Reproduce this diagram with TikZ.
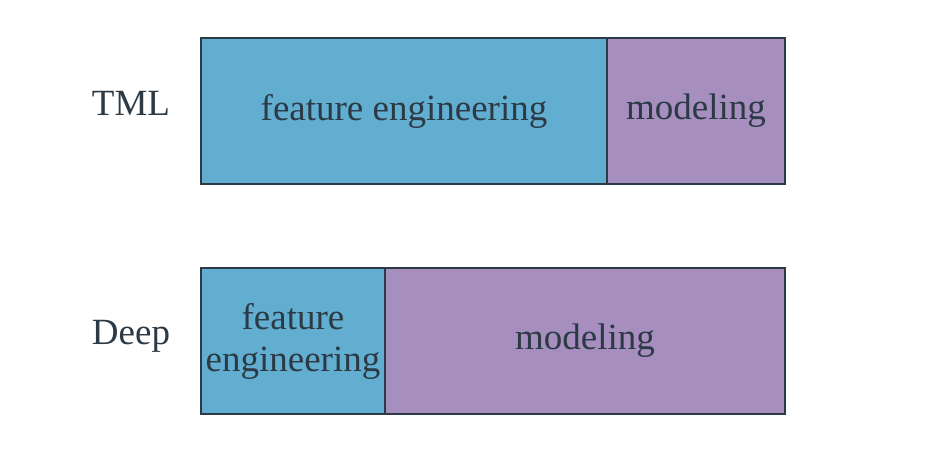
\documentclass[tikz,border=0pt]{standalone}
\usepackage{fontspec}
\setmainfont{Liberation Serif}
\usetikzlibrary{positioning}
\definecolor{feblue}{HTML}{62AED0}
\definecolor{modpurple}{HTML}{A68EBF}
\definecolor{inkdark}{HTML}{2C3A45}

\begin{document}
\begin{tikzpicture}[x=1pt, y=-1pt, font=\fontsize{37}{42}\selectfont, text=inkdark, node distance=0pt,
  part/.style={draw=inkdark, line width=1.5pt, minimum height=146pt, inner sep=0pt, outer sep=0pt, align=center},
  fe/.style={part, fill=feblue},
  mod/.style={part, fill=modpurple},
  rowlabel/.style={inner sep=0pt}]
\useasboundingbox (0,0) rectangle (940,450);
\node[fe, minimum width=406pt, anchor=north west] (tmlfe) at (201,38) {feature engineering};
\node[mod, minimum width=178pt, right=of tmlfe] (tmlmod) {modeling};
\node[fe, minimum width=184pt, anchor=north west] (deepfe) at (201,268) {feature\\engineering};
\node[mod, minimum width=400pt, right=of deepfe] (deepmod) {modeling};
\node[rowlabel] (tml) at (131,103) {TML};
\node[rowlabel] (deep) at (131,336) {Deep};
\end{tikzpicture}
\end{document}
